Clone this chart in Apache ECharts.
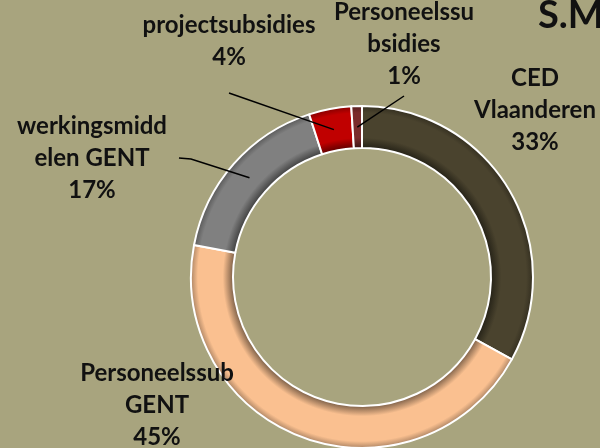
<!DOCTYPE html>
<html>
<head>
<meta charset="utf-8">
<script src="https://cdn.jsdelivr.net/npm/echarts@6/dist/echarts.min.js"></script>
<style>
  html, body { margin: 0; padding: 0; background: #A8A47E; }
  #chart { width: 600px; height: 448px; }
</style>
</head>
<body>
<div id="chart"></div>
<script>
// categories as they wrap in the original, clockwise from 12 o'clock
const categories = ['CED\nVlaanderen', 'Personeelssub\nGENT', 'werkingsmidd\nelen GENT', 'projectsubsidies', 'Personeelssu\nbsidies']
const shares = [33, 45, 17, 4, 1]

const colors = ['#4A432E', '#FAC090', '#808080', '#C00000', '#7A2B2B']
// label block centres and which side the leader line leaves from
const labelCenters = [[535, 110], [157, 405], [92, 158], [229, 41], [404, 44]]
const leaderSide = [null, null, 'right', 'bottom', 'bottom']
const leaderGap = [0, 0, 12, 20, 4]

const CENTER = [362, 277]
const RADIUS = [129, 171]
const FONT = 'Lato, "Open Sans", sans-serif'
const FONT_SIZE = 24
const LINE_H = 32

// mid angle of every slice, clockwise from the top
const total = shares.reduce((a, b) => a + b, 0)
let cum = 0
const midAngles = shares.map(v => {
  const m = (cum + v / 2) / total * 2 * Math.PI
  cum += v
  return m
})

function shade(hex, f) {
  const n = parseInt(hex.slice(1), 16)
  const r = Math.round(((n >> 16) & 255) * (1 - f))
  const g = Math.round(((n >> 8) & 255) * (1 - f))
  const b = Math.round((n & 255) * (1 - f))
  return `rgb(${r},${g},${b})`
}

// soft bevel like the spreadsheet: darker at the inner and outer rims
function ringFill(hex) {
  const inner = RADIUS[0] / RADIUS[1]
  return new echarts.graphic.RadialGradient(CENTER[0], CENTER[1], RADIUS[1], [
    { offset: inner, color: shade(hex, 0.5) },
    { offset: inner + 0.06, color: hex },
    { offset: 0.96, color: hex },
    { offset: 1, color: shade(hex, 0.3) },
  ], true)
}

const ctx = document.createElement('canvas').getContext('2d')
ctx.font = `bold ${FONT_SIZE}px ${FONT}`
function labelLines(i) {
  return [...categories[i].split('\n'), shares[i] + '%']
}

// leader lines from the label block to the middle of the ring
function leaderLines() {
  const rm = (RADIUS[0] + RADIUS[1]) / 2
  const out = []
  leaderSide.forEach((side, i) => {
    if (!side) return
    const [cx, cy] = labelCenters[i]
    const m = midAngles[i]
    const anchor = [CENTER[0] + rm * Math.sin(m), CENTER[1] - rm * Math.cos(m)]
    const lines = labelLines(i)
    let points
    if (side === 'right') {
      const w = Math.max(...lines.map(t => ctx.measureText(t).width))
      const end = [cx + w / 2 + leaderGap[i], cy]
      points = [end, [end[0] + 12, cy + 1], anchor]
    } else {
      const h = lines.length * LINE_H
      points = [[cx, cy + h / 2 + leaderGap[i]], anchor]
    }
    out.push({
      type: 'polyline',
      z: 10,
      shape: { points },
      style: { stroke: '#000', lineWidth: 1.5, fill: null },
    })
  })
  return out
}

const chart = echarts.init(document.getElementById('chart'))

chart.setOption({
  backgroundColor: '#A8A47E',
  animation: false,
  title: {
    text: 'S.M',
    left: 533,
    top: -8,
    textStyle: { fontFamily: FONT, fontWeight: 'bold', fontSize: 38, color: '#111' },
  },
  graphic: leaderLines(),
  series: [{
    type: 'pie',
    center: CENTER,
    radius: RADIUS,
    startAngle: 90,
    clockwise: true,
    avoidLabelOverlap: false,
    itemStyle: { borderColor: '#ffffff', borderWidth: 2 },
    label: {
      show: true,
      position: 'outside',
      formatter: '{b}\n{d}%',
      fontFamily: FONT,
      fontWeight: 'bold',
      fontSize: FONT_SIZE,
      lineHeight: LINE_H,
      align: 'center',
      color: '#111',
    },
    labelLine: { show: false },
    labelLayout: p => ({
      x: labelCenters[p.dataIndex][0],
      y: labelCenters[p.dataIndex][1],
      align: 'center',
      verticalAlign: 'middle',
    }),
    emphasis: { disabled: true },
    data: categories.map((name, i) => ({
      name,
      value: shares[i],
      itemStyle: { color: ringFill(colors[i]) },
    })),
  }],
})
</script>
</body>
</html>
